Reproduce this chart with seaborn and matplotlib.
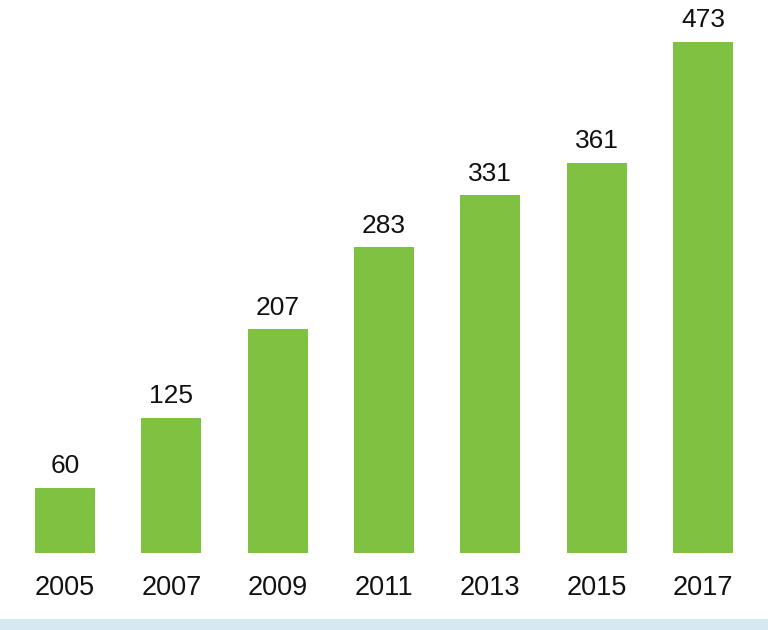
import matplotlib
matplotlib.use("Agg")
import matplotlib.pyplot as plt
import seaborn as sns
import pandas as pd
from matplotlib.patches import Rectangle

years = ["2005", "2007", "2009", "2011", "2013", "2015", "2017"]
values = [60, 125, 207, 283, 331, 361, 473]

df = pd.DataFrame({"year": years, "value": values})

sns.set_theme(style="white")
plt.rcParams['font.family'] = ['Liberation Sans', 'DejaVu Sans']

W, H = 768, 630
fig = plt.figure(figsize=(W / 100, H / 100), dpi=100)
ax = fig.add_axes([11.8 / W, 77 / H, 744.3 / W, 553 / H])

sns.barplot(data=df, x="year", y="value", color="#7fc241", width=0.564,
            saturation=1, ax=ax, edgecolor="none")

ax.set_xlim(-0.5, 6.5)
ax.set_ylim(0, 512)
for s in ax.spines.values():
    s.set_visible(False)
ax.set_yticks([])
ax.set_xlabel("")
ax.set_ylabel("")
ax.tick_params(axis="x", length=0, pad=16, labelsize=19.5, labelcolor="#111111")
for lbl in ax.get_xticklabels():
    lbl.set_fontfamily(['Liberation Sans', 'DejaVu Sans'])

for i, v in enumerate(values):
    t = ax.annotate(str(v), (i, v), xytext=(0, 7), textcoords="offset points",
                    ha="center", va="bottom", fontsize=19, color="#111111",
                    family=['Liberation Sans Narrow', 'Liberation Sans', 'DejaVu Sans'])
    t.set_fontstretch("condensed")

fig.patches.append(Rectangle((0, 0), 1, 11 / H, transform=fig.transFigure,
                             facecolor="#d6e9f3", edgecolor="none", zorder=0))

fig.savefig("out.png", dpi=100)
